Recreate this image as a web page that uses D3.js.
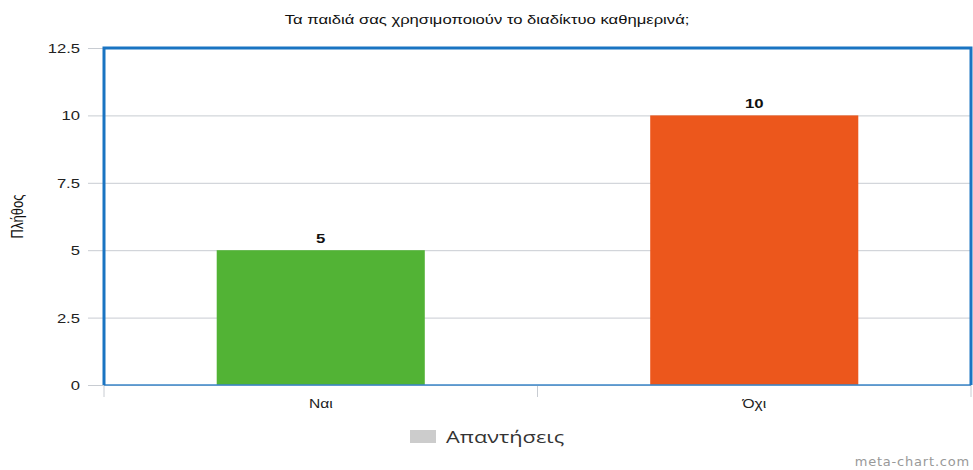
<!DOCTYPE html>
<html>
<head>
<meta charset="utf-8">
<script src="https://cdn.jsdelivr.net/npm/d3@7"></script>
<style>
  body { margin: 0; background: #fff; }
  svg { display: block; font-family: "Liberation Sans", Arial, sans-serif; }
</style>
</head>
<body>
<div id="chart"></div>
<script>
const categories = ["Ναι", "Όχι"];
const values = [5, 10];
const barColors = ["#52b335", "#ec571c"];
const yTicks = [0, 2.5, 5, 7.5, 10, 12.5];

const W = 973, H = 470;
const margin = { top: 48, right: 2, bottom: 85, left: 104 };
const width = W - margin.left - margin.right;
const height = H - margin.top - margin.bottom;
const SX = 1.28; // text in the original is stretched sideways

const svg = d3.select("#chart").append("svg")
  .attr("width", W)
  .attr("height", H);

const g = svg.append("g")
  .attr("transform", `translate(${margin.left},${margin.top})`);

const x = d3.scaleBand()
  .domain(categories)
  .range([0, width])
  .paddingInner(0.52)
  .paddingOuter(0.26);

const y = d3.scaleLinear()
  .domain([0, 12.5])
  .range([height, 0]);

// put text at (px,py) and stretch it horizontally around that point
function place(sel, px, py, sx) {
  return sel.attr("x", 0).attr("y", 0)
    .attr("transform", (d, i) => {
      const a = typeof px === "function" ? px(d, i) : px;
      const b = typeof py === "function" ? py(d, i) : py;
      return `translate(${a},${b}) scale(${sx},1)`;
    });
}

// grid lines + y labels
const yAxis = g.append("g")
  .attr("transform", "translate(-16,0)")
  .call(d3.axisLeft(y).tickValues(yTicks).tickSize(-width - 16).tickFormat(d3.format("")));
yAxis.select(".domain").remove();
yAxis.selectAll(".tick line").attr("stroke", "#c8ccd2").attr("stroke-width", 1);
yAxis.selectAll(".tick text")
  .attr("dy", null)
  .style("font-size", "13px")
  .style("fill", "#222");
place(yAxis.selectAll(".tick text"), -8, 4.5, SX);

// x axis ticks at band boundaries
const bounds = [0, width / 2, width];
g.selectAll("line.xtick")
  .data(bounds)
  .enter().append("line")
  .attr("class", "xtick")
  .attr("x1", d => d).attr("x2", d => d)
  .attr("y1", height).attr("y2", height + 12)
  .attr("stroke", "#c8ccd2");

place(g.selectAll("text.xlabel")
  .data(categories)
  .enter().append("text")
  .attr("class", "xlabel")
  .attr("text-anchor", "middle")
  .style("font-size", "13px")
  .style("fill", "#222")
  .text(d => d), d => x(d) + x.bandwidth() / 2, height + 23, 1.2);

// bars
g.selectAll("rect.bar")
  .data(values)
  .enter().append("rect")
  .attr("class", "bar")
  .attr("x", (d, i) => x(categories[i]))
  .attr("y", d => y(d))
  .attr("width", x.bandwidth())
  .attr("height", d => height - y(d))
  .attr("fill", (d, i) => barColors[i]);

// value labels
place(g.selectAll("text.val")
  .data(values)
  .enter().append("text")
  .attr("class", "val")
  .attr("text-anchor", "middle")
  .style("font-size", "12px")
  .style("font-weight", "bold")
  .style("fill", "#111")
  .text(d => d), (d, i) => x(categories[i]) + x.bandwidth() / 2, d => y(d) - 7, 1.4);

// frame
g.append("line").attr("x1", 0).attr("x2", width).attr("y1", height).attr("y2", height)
  .attr("stroke", "#3a86c8").attr("stroke-width", 1.5);
g.append("path")
  .attr("d", `M0,${height}V0H${width}V${height}`)
  .attr("fill", "none")
  .attr("stroke", "#1a74c2")
  .attr("stroke-width", 3);

// title
place(svg.append("text")
  .attr("text-anchor", "middle")
  .style("font-size", "13px")
  .style("fill", "#111")
  .text("Τα παιδιά σας χρησιμοποιούν το διαδίκτυο καθημερινά;"), 487, 24, SX);

// y label
svg.append("text")
  .attr("transform", `translate(23,${margin.top + height / 2}) scale(${SX},1) rotate(-90)`)
  .attr("text-anchor", "middle")
  .style("font-size", "13px")
  .style("fill", "#111")
  .text("Πλήθος");

// legend
svg.append("rect")
  .attr("x", 410).attr("y", 430)
  .attr("width", 26).attr("height", 13)
  .attr("fill", "#cccccc");
place(svg.append("text")
  .style("font-family", "'Open Sans', sans-serif")
  .style("font-size", "17px")
  .style("fill", "#333")
  .text("Απαντήσεις"), 446, 443, SX);

// watermark
svg.append("text")
  .attr("x", W - 3).attr("y", 466)
  .attr("text-anchor", "end")
  .style("font-family", "'DejaVu Sans', sans-serif")
  .style("font-size", "13px")
  .style("letter-spacing", "0.8px")
  .style("fill", "#999")
  .text("meta-chart.com");
</script>
</body>
</html>
